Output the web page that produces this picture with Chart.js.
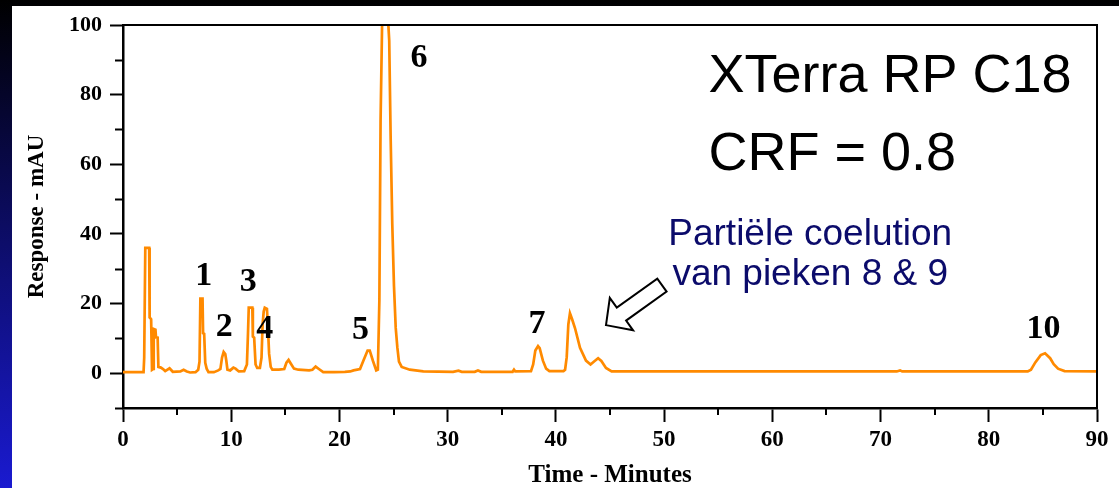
<!DOCTYPE html>
<html>
<head>
<meta charset="utf-8">
<script src="https://cdn.jsdelivr.net/npm/chart.js@4.4.1/dist/chart.umd.min.js"></script>
<style>
  html, body { margin: 0; padding: 0; }
  body {
    width: 1119px; height: 488px; overflow: hidden; position: relative;
    background: linear-gradient(to bottom, #000000 0%, #0d0d6a 50%, #1a1ad0 100%);
  }
  #panel { position: absolute; left: 12px; top: 6px; width: 1107px; height: 482px; background: #fff; }
  canvas { display: block; }
</style>
</head>
<body>
<div id="panel"><canvas id="chrom" width="1107" height="482"></canvas></div>
<script>
// chromatogram trace (minutes, mAU)
const retentionTimes = [
    0, 1.9, 1.96, 2.06, 2.42, 2.46, 2.6, 2.68, 2.78, 2.84,
    3.0, 3.05, 3.2, 3.27, 3.5, 3.7, 3.9, 4.3, 4.6, 5.3,
    5.6, 5.9, 6.2, 6.7, 6.95, 7.07, 7.15, 7.35, 7.4, 7.5,
    7.6, 7.73, 7.9, 8.4, 8.8, 9.0, 9.15, 9.3, 9.45, 9.55,
    9.65, 9.9, 10.2, 10.4, 10.7, 11.2, 11.45, 11.55, 11.62, 11.95,
    12.0, 12.12, 12.25, 12.4, 12.65, 12.8, 12.9, 13.0, 13.1, 13.3,
    13.38, 13.5, 13.65, 13.8, 14.4, 14.9, 15.1, 15.3, 15.5, 15.8,
    16.2, 17.2, 17.5, 17.8, 18.1, 18.5, 19.5, 20.5, 21.0, 21.3,
    21.9, 22.2, 22.6, 22.8, 23.1, 23.4, 23.55, 23.69, 23.8, 23.96,
    24.25, 24.6, 24.73, 24.88, 25.04, 25.2, 25.35, 25.5, 25.75, 26.5,
    27.75, 30.5, 31.0, 31.3, 32.5, 32.8, 33.1, 36.0, 36.13, 36.25,
    37.7, 37.9, 38.1, 38.35, 38.5, 38.8, 39.1, 39.4, 40.7, 40.85,
    41.0, 41.15, 41.3, 41.5, 41.77, 42.23, 42.78, 43.2, 43.5, 43.9,
    44.2, 44.63, 45.15, 60, 71.5, 71.8, 72, 83.6, 83.9, 84.3,
    84.8, 85.2, 85.67, 86.0, 86.4, 87.0, 90
];
const responseMAU = [
    0.3, 0.3, 4.5, 36, 36, 16, 15.5, 1.0, 1.2, 12.7,
    12.5, 10.3, 10.2, 1.8, 1.6, 1.2, 0.6, 1.4, 0.4, 0.5,
    1.0, 0.5, 0.2, 0.3, 1.0, 3.3, 21.4, 21.4, 11.5, 11.3,
    3.0, 1.3, 0.3, 0.3, 0.8, 1.2, 4.5, 6.1, 5.5, 3.5,
    1.0, 0.8, 1.6, 1.3, 0.5, 0.6, 2.5, 11.5, 18.8, 18.8,
    10.5, 10.2, 2.5, 1.5, 1.5, 4.5, 14, 17.7, 18.8, 18.5,
    14, 5.6, 1.8, 1.0, 1.0, 1.2, 3.0, 3.8, 2.8, 1.3,
    1.0, 0.8, 1.0, 1.9, 1.2, 0.3, 0.3, 0.4, 0.5, 0.8,
    1.2, 3.5, 6.5, 6.5, 3.5, 0.8, 1.0, 21, 72.5, 104,
    115, 95.5, 67.9, 43, 25, 13, 7.4, 3.3, 1.8, 1.0,
    0.5, 0.4, 0.7, 0.4, 0.4, 0.8, 0.4, 0.4, 1.0, 0.5,
    0.6, 2.5, 6.5, 7.8, 7.2, 3.6, 1.3, 0.6, 0.6, 1.0,
    4.6, 14, 17.2, 15.5, 12.9, 7.3, 3.6, 2.5, 3.3, 4.3,
    3.5, 1.5, 0.5, 0.5, 0.5, 0.8, 0.5, 0.5, 1.0, 3.1,
    5.2, 5.7, 4.3, 2.6, 1.3, 0.6, 0.5
];

// peak numbers and where they sit (minutes, mAU)
const peakNames = ["1", "2", "3", "4", "5", "6", "7", "10"];
const peakNameTimes = [7.45, 9.35, 11.57, 13.1, 21.95, 27.35, 38.25, 85.05];
const peakNameLevels = [27.8, 13.2, 26.0, 12.6, 12.2, 90.6, 14.2, 12.6];

// axis ticks
const xMajorTicks = [0, 10, 20, 30, 40, 50, 60, 70, 80, 90];
const xMinorTicks = [5, 15, 25, 35, 45, 55, 65, 75, 85];
const yMajorTicks = [0, 20, 40, 60, 80, 100];
const yMinorTicks = [-10, 10, 30, 50, 70, 90];

// text blocks and arrow, in data units
const columnLines = ["XTerra RP C18", "CRF = 0.8"];
const columnAt = { time: 54.1, levels: [85.0, 62.5] };
const noteLines = ["Partiële coelution", "van pieken 8 & 9"];
const noteAt = { time: 63.5, levels: [39.7, 28.4] };
const arrowTip = { time: 44.63, level: 13.8 };
const arrowTail = { time: 49.8, level: 25.3 };

const serifBold = '"Liberation Serif", "Times New Roman", serif';
const sans = '"Liberation Sans", Arial, sans-serif';

const extras = {
    id: "extras",
    afterDraw(chart) {
        const { ctx, chartArea: a, scales: { x, y } } = chart;
        ctx.save();

        // frame top + right
        ctx.strokeStyle = "#000";
        ctx.lineWidth = 2;
        ctx.beginPath();
        ctx.moveTo(a.left, a.top);
        ctx.lineTo(a.right, a.top);
        ctx.lineTo(a.right, a.bottom);
        ctx.stroke();

        // short minor ticks
        ctx.beginPath();
        yMinorTicks.forEach((v) => {
            const py = Math.round(y.getPixelForValue(v)) + 0.5;
            ctx.moveTo(a.left - 8, py);
            ctx.lineTo(a.left, py);
        });
        xMinorTicks.forEach((v) => {
            const px = Math.round(x.getPixelForValue(v));
            ctx.moveTo(px, a.bottom);
            ctx.lineTo(px, a.bottom + 7);
        });
        ctx.stroke();

        // peak numbers
        ctx.fillStyle = "#000";
        ctx.textAlign = "center";
        ctx.textBaseline = "middle";
        ctx.font = "bold 34px " + serifBold;
        peakNames.forEach((name, i) => {
            ctx.fillText(name, x.getPixelForValue(peakNameTimes[i]), y.getPixelForValue(peakNameLevels[i]));
        });

        // column info
        ctx.textAlign = "left";
        ctx.font = "54px " + sans;
        columnLines.forEach((line, i) => {
            ctx.fillText(line, x.getPixelForValue(columnAt.time), y.getPixelForValue(columnAt.levels[i]));
        });

        // coelution note
        ctx.textAlign = "center";
        ctx.fillStyle = "#0b0b6b";
        ctx.font = "37px " + sans;
        noteLines.forEach((line, i) => {
            ctx.fillText(line, x.getPixelForValue(noteAt.time), y.getPixelForValue(noteAt.levels[i]));
        });

        // hollow arrow
        const tx = x.getPixelForValue(arrowTip.time), ty = y.getPixelForValue(arrowTip.level);
        const sx = x.getPixelForValue(arrowTail.time), sy = y.getPixelForValue(arrowTail.level);
        const len = Math.hypot(sx - tx, sy - ty);
        const ux = (sx - tx) / len, uy = (sy - ty) / len;
        const nx = -uy, ny = ux;
        const headLen = 19, headHalf = 20, shaftHalf = 8;
        const pt = (along, across) => [tx + ux * along + nx * across, ty + uy * along + ny * across];
        const poly = [
            pt(0, 0), pt(headLen, headHalf), pt(headLen, shaftHalf), pt(len, shaftHalf),
            pt(len, -shaftHalf), pt(headLen, -shaftHalf), pt(headLen, -headHalf)
        ];
        ctx.beginPath();
        poly.forEach(([px, py], i) => (i ? ctx.lineTo(px, py) : ctx.moveTo(px, py)));
        ctx.closePath();
        ctx.fillStyle = "#fff";
        ctx.fill();
        ctx.strokeStyle = "#000";
        ctx.lineWidth = 2;
        ctx.lineJoin = "miter";
        ctx.stroke();

        ctx.restore();
    },
};

new Chart(document.getElementById("chrom"), {
    type: "line",
    data: {
        datasets: [
            {
                data: retentionTimes.map((t, i) => ({ x: t, y: responseMAU[i] })),
                borderColor: "#ff8a00",
                borderWidth: 2.7,
                pointRadius: 0,
                tension: 0,
                fill: false,
            },
        ],
    },
    options: {
        responsive: false,
        animation: false,
        layout: { padding: { top: 11, right: 22, left: 0, bottom: 0 } },
        plugins: { legend: { display: false }, tooltip: { enabled: false } },
        scales: {
            x: {
                type: "linear",
                min: 0,
                max: 90,
                afterFit: (s) => { s.height = 80; },
                afterBuildTicks: (s) => { s.ticks = xMajorTicks.map((v) => ({ value: v })); },
                ticks: {
                    autoSkip: false,
                    maxRotation: 0,
                    padding: 7,
                    color: "#000",
                    font: { family: serifBold, size: 23, weight: "bold", lineHeight: 1 },
                },
                grid: { drawOnChartArea: false, tickLength: 14, tickWidth: 2, tickColor: "#000" },
                border: { color: "#000", width: 2.5 },
                title: {
                    display: true,
                    text: "Time - Minutes",
                    color: "#000",
                    font: { family: serifBold, size: 25, weight: "bold", lineHeight: 1 },
                    padding: 0,
                },
            },
            y: {
                min: -10,
                max: 100,
                afterFit: (s) => { s.width = 111; },
                afterBuildTicks: (s) => { s.ticks = yMajorTicks.map((v) => ({ value: v })); },
                ticks: {
                    padding: 8,
                    color: "#000",
                    font: { family: serifBold, size: 22, weight: "bold", lineHeight: 1 },
                },
                grid: { drawOnChartArea: false, tickLength: 13, tickWidth: 2, tickColor: "#000" },
                border: { color: "#000", width: 2.5 },
                title: {
                    display: true,
                    text: "Response - mAU",
                    color: "#000",
                    font: { family: serifBold, size: 23, weight: "bold" },
                    padding: { top: 11, bottom: 0 },
                },
            },
        },
    },
    plugins: [extras],
});
</script>
</body>
</html>
